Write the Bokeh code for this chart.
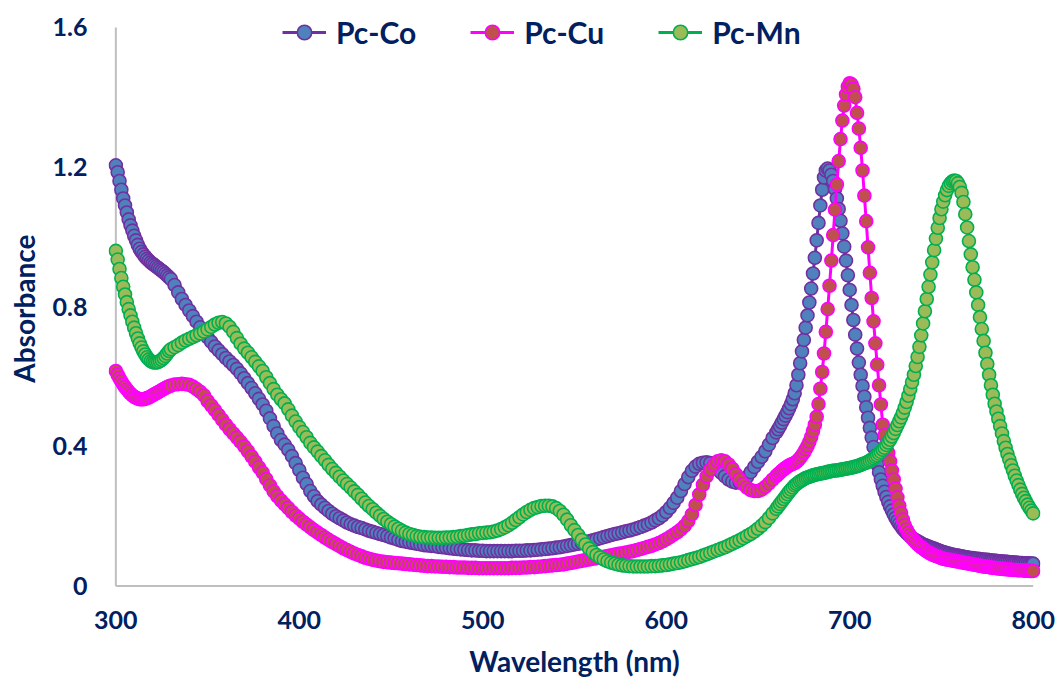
from bokeh.plotting import figure
from bokeh.models import Range1d, FixedTicker
from bokeh.embed import file_html
from bokeh.resources import INLINE

# ---------------- data ----------------
wavelength = list(range(300, 330)) + list(range(330, 660, 2)) + list(range(660, 801))

# Pc-Co
co_a = [1.205, 1.185, 1.160, 1.135, 1.110, 1.090, 1.070, 1.050, 1.033, 1.018,
        1.003, 0.990, 0.977, 0.966, 0.957, 0.950, 0.943, 0.937, 0.932, 0.927,
        0.923, 0.919, 0.915, 0.911, 0.907, 0.903, 0.899, 0.894, 0.889, 0.884]
co_b = [0.879, 0.862, 0.841, 0.822, 0.805, 0.789, 0.773, 0.757, 0.741, 0.726,
        0.712, 0.699, 0.686, 0.675, 0.664, 0.653, 0.643, 0.633, 0.622, 0.609,
        0.595, 0.581, 0.567, 0.552, 0.536, 0.520, 0.502, 0.480, 0.458, 0.437,
        0.418, 0.405, 0.390, 0.372, 0.352, 0.332, 0.310, 0.292, 0.272, 0.257,
        0.243, 0.233, 0.224, 0.215, 0.207, 0.200, 0.194, 0.188, 0.182, 0.177,
        0.173, 0.169, 0.166, 0.162, 0.158, 0.155, 0.152, 0.149, 0.146, 0.143,
        0.139, 0.136, 0.132, 0.129, 0.127, 0.125, 0.123, 0.121, 0.119, 0.117,
        0.116, 0.115, 0.114, 0.112, 0.111, 0.110, 0.108, 0.107, 0.106, 0.105,
        0.104, 0.103, 0.102, 0.102, 0.101, 0.101, 0.100, 0.100, 0.100, 0.100,
        0.100, 0.100, 0.100, 0.100, 0.101, 0.101, 0.101, 0.102, 0.102, 0.103,
        0.104, 0.105, 0.106, 0.107, 0.108, 0.110, 0.111, 0.113, 0.115, 0.117,
        0.119, 0.121, 0.123, 0.125, 0.128, 0.131, 0.134, 0.137, 0.140, 0.143,
        0.146, 0.149, 0.151, 0.154, 0.157, 0.159, 0.162, 0.165, 0.169, 0.173,
        0.177, 0.182, 0.188, 0.194, 0.202, 0.212, 0.224, 0.238, 0.253, 0.272,
        0.292, 0.312, 0.330, 0.342, 0.350, 0.353, 0.354, 0.352, 0.344, 0.334,
        0.324, 0.314, 0.305, 0.299, 0.296, 0.297, 0.302, 0.312, 0.326, 0.341,
        0.356, 0.370, 0.386, 0.405, 0.424]
co_c = [0.440, 0.449, 0.458, 0.468, 0.478, 0.488, 0.498, 0.509, 0.521, 0.535,
        0.552, 0.575, 0.605, 0.638, 0.672, 0.705, 0.740, 0.775, 0.812, 0.852,
        0.895, 0.940, 0.990, 1.040, 1.090, 1.135, 1.170, 1.190, 1.196, 1.190,
        1.178, 1.160, 1.137, 1.110, 1.080, 1.046, 1.010, 0.972, 0.932, 0.890,
        0.848, 0.805, 0.762, 0.720, 0.680, 0.640, 0.605, 0.573, 0.542, 0.512,
        0.482, 0.453, 0.425, 0.398, 0.372, 0.348, 0.326, 0.305, 0.287, 0.270,
        0.255, 0.241, 0.228, 0.216, 0.205, 0.195, 0.186, 0.178, 0.171, 0.164,
        0.158, 0.152, 0.147, 0.142, 0.138, 0.134, 0.131, 0.128, 0.125, 0.122,
        0.119, 0.117, 0.115, 0.113, 0.111, 0.109, 0.107, 0.105, 0.103, 0.101,
        0.099, 0.097, 0.096, 0.094, 0.093, 0.091, 0.090, 0.089, 0.088, 0.087,
        0.086, 0.085, 0.084, 0.083, 0.082, 0.081, 0.080, 0.080, 0.079, 0.078,
        0.078, 0.077, 0.076, 0.076, 0.075, 0.075, 0.074, 0.073, 0.073, 0.072,
        0.072, 0.071, 0.071, 0.070, 0.070, 0.069, 0.069, 0.068, 0.068, 0.067,
        0.067, 0.067, 0.066, 0.066, 0.066, 0.065, 0.065, 0.065, 0.064, 0.064,
        0.064]

# Pc-Cu
cu_a = [0.616, 0.605, 0.595, 0.586, 0.577, 0.570, 0.563, 0.557, 0.551, 0.546,
        0.542, 0.539, 0.537, 0.535, 0.535, 0.535, 0.536, 0.538, 0.540, 0.543,
        0.546, 0.549, 0.552, 0.555, 0.558, 0.561, 0.564, 0.567, 0.570, 0.572]
cu_b = [0.574, 0.577, 0.578, 0.579, 0.578, 0.576, 0.571, 0.564, 0.556, 0.546,
        0.530, 0.517, 0.504, 0.490, 0.476, 0.462, 0.449, 0.437, 0.425, 0.413,
        0.400, 0.386, 0.371, 0.356, 0.340, 0.325, 0.306, 0.288, 0.271, 0.257,
        0.245, 0.234, 0.223, 0.212, 0.202, 0.193, 0.184, 0.176, 0.168, 0.160,
        0.153, 0.146, 0.139, 0.132, 0.126, 0.120, 0.114, 0.108, 0.103, 0.098,
        0.093, 0.089, 0.085, 0.081, 0.078, 0.075, 0.073, 0.071, 0.069, 0.068,
        0.067, 0.066, 0.065, 0.064, 0.063, 0.062, 0.061, 0.060, 0.059, 0.058,
        0.057, 0.057, 0.056, 0.056, 0.055, 0.055, 0.054, 0.054, 0.053, 0.053,
        0.053, 0.052, 0.052, 0.052, 0.051, 0.051, 0.051, 0.051, 0.051, 0.051,
        0.051, 0.051, 0.051, 0.052, 0.052, 0.052, 0.053, 0.053, 0.054, 0.054,
        0.055, 0.056, 0.057, 0.058, 0.059, 0.060, 0.061, 0.062, 0.064, 0.066,
        0.068, 0.070, 0.072, 0.074, 0.076, 0.078, 0.080, 0.082, 0.084, 0.086,
        0.088, 0.090, 0.092, 0.094, 0.096, 0.098, 0.100, 0.103, 0.106, 0.109,
        0.112, 0.115, 0.119, 0.123, 0.128, 0.134, 0.140, 0.147, 0.154, 0.162,
        0.172, 0.186, 0.205, 0.232, 0.262, 0.290, 0.314, 0.333, 0.347, 0.357,
        0.360, 0.357, 0.348, 0.336, 0.320, 0.305, 0.292, 0.282, 0.275, 0.272,
        0.272, 0.276, 0.284, 0.294, 0.305]
cu_c = [0.315, 0.320, 0.325, 0.330, 0.334, 0.338, 0.342, 0.345, 0.348, 0.350,
        0.352, 0.356, 0.361, 0.367, 0.374, 0.382, 0.391, 0.401, 0.413, 0.427,
        0.444, 0.462, 0.485, 0.521, 0.565, 0.613, 0.666, 0.728, 0.793, 0.860,
        0.932, 1.005, 1.078, 1.150, 1.217, 1.280, 1.333, 1.376, 1.408, 1.430,
        1.440, 1.437, 1.424, 1.400, 1.355, 1.310, 1.255, 1.190, 1.118, 1.045,
        0.970, 0.897, 0.825, 0.758, 0.695, 0.634, 0.575, 0.520, 0.462, 0.432,
        0.406, 0.381, 0.357, 0.331, 0.305, 0.279, 0.254, 0.230, 0.209, 0.190,
        0.174, 0.162, 0.152, 0.144, 0.137, 0.131, 0.125, 0.120, 0.115, 0.111,
        0.107, 0.103, 0.099, 0.096, 0.093, 0.090, 0.088, 0.086, 0.084, 0.082,
        0.080, 0.078, 0.077, 0.076, 0.075, 0.074, 0.073, 0.072, 0.071, 0.070,
        0.069, 0.068, 0.067, 0.066, 0.065, 0.064, 0.063, 0.062, 0.061, 0.060,
        0.059, 0.058, 0.057, 0.056, 0.055, 0.055, 0.054, 0.053, 0.052, 0.052,
        0.051, 0.050, 0.050, 0.049, 0.049, 0.048, 0.048, 0.047, 0.047, 0.046,
        0.046, 0.046, 0.045, 0.045, 0.045, 0.044, 0.044, 0.044, 0.043, 0.043,
        0.043]

# Pc-Mn
mn_a = [0.960, 0.935, 0.908, 0.882, 0.857, 0.835, 0.813, 0.793, 0.775, 0.757,
        0.740, 0.724, 0.709, 0.695, 0.683, 0.672, 0.663, 0.655, 0.649, 0.644,
        0.641, 0.640, 0.640, 0.641, 0.644, 0.648, 0.653, 0.659, 0.666, 0.673]
mn_b = [0.678, 0.684, 0.690, 0.697, 0.703, 0.708, 0.713, 0.718, 0.723, 0.729,
        0.735, 0.742, 0.749, 0.754, 0.756, 0.752, 0.742, 0.728, 0.710, 0.694,
        0.680, 0.668, 0.655, 0.642, 0.629, 0.616, 0.598, 0.581, 0.564, 0.548,
        0.535, 0.523, 0.506, 0.488, 0.471, 0.455, 0.441, 0.426, 0.410, 0.397,
        0.385, 0.372, 0.360, 0.347, 0.335, 0.324, 0.313, 0.302, 0.292, 0.282,
        0.271, 0.261, 0.250, 0.239, 0.229, 0.220, 0.210, 0.201, 0.192, 0.184,
        0.177, 0.170, 0.164, 0.158, 0.153, 0.149, 0.146, 0.143, 0.141, 0.140,
        0.139, 0.139, 0.138, 0.138, 0.138, 0.139, 0.139, 0.140, 0.141, 0.143,
        0.144, 0.146, 0.148, 0.149, 0.151, 0.152, 0.153, 0.154, 0.156, 0.159,
        0.163, 0.168, 0.174, 0.181, 0.189, 0.197, 0.205, 0.212, 0.218, 0.223,
        0.226, 0.229, 0.230, 0.230, 0.228, 0.223, 0.215, 0.204, 0.190, 0.174,
        0.160, 0.146, 0.132, 0.119, 0.107, 0.097, 0.089, 0.082, 0.076, 0.071,
        0.067, 0.064, 0.061, 0.059, 0.058, 0.057, 0.056, 0.056, 0.056, 0.056,
        0.056, 0.057, 0.057, 0.058, 0.059, 0.060, 0.062, 0.064, 0.066, 0.068,
        0.071, 0.074, 0.077, 0.080, 0.083, 0.087, 0.091, 0.095, 0.099, 0.103,
        0.107, 0.111, 0.116, 0.121, 0.126, 0.131, 0.137, 0.143, 0.149, 0.156,
        0.164, 0.173, 0.183, 0.195, 0.208]
mn_c = [0.221, 0.228, 0.235, 0.242, 0.249, 0.256, 0.263, 0.270, 0.276, 0.282,
        0.288, 0.292, 0.296, 0.300, 0.303, 0.306, 0.309, 0.311, 0.313, 0.315,
        0.317, 0.318, 0.320, 0.321, 0.322, 0.323, 0.324, 0.325, 0.327, 0.328,
        0.329, 0.330, 0.331, 0.331, 0.332, 0.333, 0.334, 0.335, 0.336, 0.337,
        0.338, 0.339, 0.340, 0.342, 0.343, 0.345, 0.347, 0.349, 0.351, 0.353,
        0.356, 0.359, 0.362, 0.366, 0.370, 0.374, 0.379, 0.384, 0.390, 0.396,
        0.404, 0.411, 0.419, 0.428, 0.438, 0.450, 0.461, 0.472, 0.483, 0.496,
        0.511, 0.527, 0.545, 0.564, 0.584, 0.605, 0.630, 0.656, 0.685, 0.718,
        0.752, 0.787, 0.822, 0.857, 0.892, 0.927, 0.962, 0.995, 1.026, 1.054,
        1.079, 1.101, 1.119, 1.134, 1.146, 1.154, 1.159, 1.161, 1.160, 1.154,
        1.143, 1.126, 1.100, 1.065, 1.027, 0.988, 0.950, 0.913, 0.877, 0.841,
        0.805, 0.770, 0.736, 0.702, 0.668, 0.636, 0.605, 0.575, 0.548, 0.522,
        0.500, 0.479, 0.458, 0.437, 0.415, 0.396, 0.378, 0.362, 0.346, 0.331,
        0.316, 0.302, 0.289, 0.276, 0.264, 0.253, 0.243, 0.233, 0.224, 0.216,
        0.208]

pc_co = co_a + co_b + co_c
pc_cu = cu_a + cu_b + cu_c
pc_mn = mn_a + mn_b + mn_c

series_names = ["Pc-Co", "Pc-Cu", "Pc-Mn"]
x_ticks = [300, 400, 500, 600, 700, 800]
y_ticks = [0, 0.4, 0.8, 1.2, 1.6]
y_tick_labels = ["0", "0.4", "0.8", "1.2", "1.6"]

# ---------------- styling ----------------
TEXT = "#002060"
FONT = "Lato"
line_colors = ["#7030A0", "#FF00FF", "#00B050"]
fill_colors = ["#4F81BD", "#C0504D", "#9BBB59"]

# the frame reaches the top of the canvas so the legend sits inside it
p = figure(width=1056, height=683, output_backend="svg", toolbar_location=None,
           x_range=Range1d(296, 804), y_range=Range1d(-0.01, 1.677),
           min_border_left=108, min_border_right=16,
           min_border_top=0, min_border_bottom=94)
p.outline_line_color = None
p.grid.grid_line_color = None
p.background_fill_color = "white"
p.border_fill_color = "white"

# axis spines (from the tick extents)
p.segment(x0=[x_ticks[0]], y0=[y_ticks[0]], x1=[x_ticks[-1]], y1=[y_ticks[0]],
          line_color="#BFBFBF", line_width=2)
p.segment(x0=[x_ticks[0]], y0=[y_ticks[0]], x1=[x_ticks[0]], y1=[y_ticks[-1]],
          line_color="#BFBFBF", line_width=2)

for name, ys, lc, fc in zip(series_names, [pc_co, pc_cu, pc_mn], line_colors, fill_colors):
    p.line(wavelength, ys, line_color=lc, line_width=3, legend_label=name)
    p.scatter(wavelength, ys, size=13, fill_color=fc, line_color=lc, line_width=1.6,
              legend_label=name)

for ax in (p.xaxis[0], p.yaxis[0]):
    ax.axis_line_color = None
    ax.major_tick_line_color = None
    ax.minor_tick_line_color = None
    ax.major_tick_out = 0
    ax.major_tick_in = 0
    ax.major_label_text_font = FONT
    ax.major_label_text_font_style = "bold"
    ax.major_label_text_font_size = "25px"
    ax.major_label_text_color = TEXT
    ax.axis_label_text_font = FONT
    ax.axis_label_text_font_style = "bold"
    ax.axis_label_text_font_size = "28px"
    ax.axis_label_text_color = TEXT

p.xaxis.ticker = FixedTicker(ticks=x_ticks)
p.yaxis.ticker = FixedTicker(ticks=y_ticks)
p.yaxis.major_label_overrides = {t: l for t, l in zip(y_ticks, y_tick_labels)}
p.xaxis.axis_label = "Wavelength (nm)"
# trailing no-break spaces nudge the rotated title down to the centre of the 0-1.6 span
p.yaxis.axis_label = "Absorbance\u00a0\u00a0\u00a0\u00a0"
p.xaxis.major_label_standoff = 21
p.yaxis.major_label_standoff = 21
p.xaxis.axis_label_standoff = 12
p.yaxis.axis_label_standoff = 9

lg = p.legend[0]
lg.orientation = "horizontal"
lg.location = (174, 539)
lg.border_line_color = None
lg.background_fill_alpha = 0
lg.padding = 0
lg.margin = 0
lg.spacing = 54
lg.glyph_width = 44
lg.glyph_height = 36
lg.label_height = 36
lg.label_standoff = 10
lg.label_text_font = FONT
lg.label_text_font_style = "bold"
lg.label_text_font_size = "30px"
lg.label_text_baseline = "middle"
lg.label_text_color = TEXT

open("out.html", "w").write(file_html(p, INLINE))
